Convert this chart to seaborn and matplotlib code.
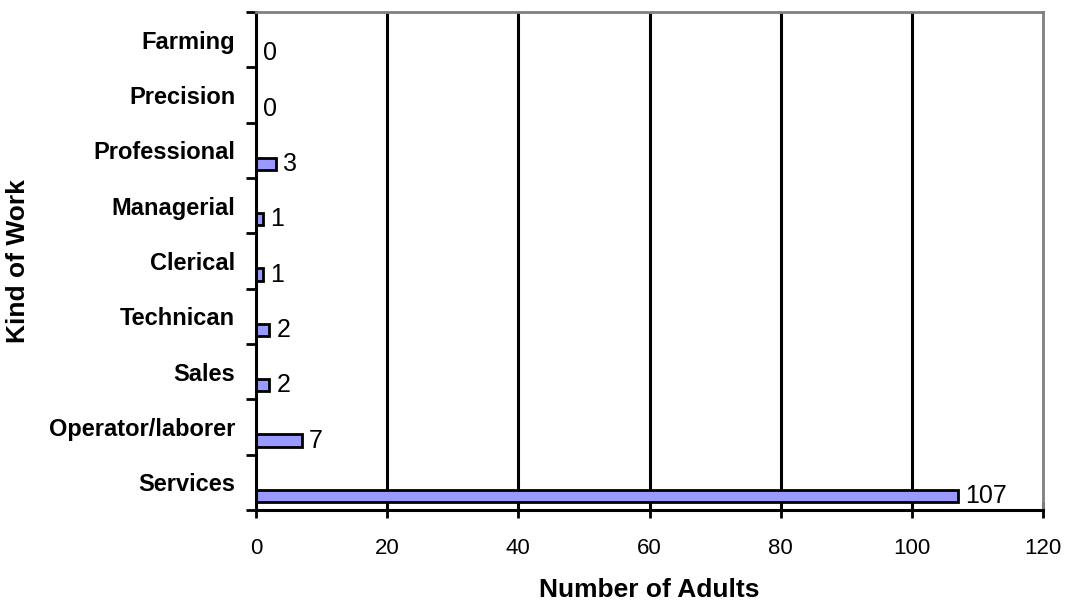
import matplotlib
matplotlib.use("Agg")
import matplotlib.pyplot as plt
import seaborn as sns
import pandas as pd
import numpy as np

categories = ["Farming", "Precision", "Professional", "Managerial", "Clerical",
              "Technican", "Sales", "Operator/laborer", "Services"]
adults = [0, 0, 3, 1, 1, 2, 2, 7, 107]
x_ticks = [0, 20, 40, 60, 80, 100, 120]

df = pd.DataFrame({"Kind of Work": categories, "Number of Adults": adults})

sns.set_theme(style="white")
plt.rcParams["font.family"] = ["Liberation Sans", "DejaVu Sans"]
plt.rcParams["text.color"] = "black"
plt.rcParams["axes.labelcolor"] = "black"
plt.rcParams["xtick.color"] = "black"
plt.rcParams["ytick.color"] = "black"

fig = plt.figure(figsize=(10.66, 6.01), dpi=100)
ax = fig.add_axes([0.2402, 0.1514, 0.7382, 0.8286])

sns.barplot(data=df, x="Number of Adults", y="Kind of Work", orient="h",
            color="#9999FF", saturation=1, width=0.22,
            edgecolor="black", linewidth=2, ax=ax)

# each bar sits in the lower part of its category band
shift = 0.245
n = len(categories)
ax.set_ylim(n - 1 + 0.5 - shift, -0.5 - shift)
ax.set_yticks(np.arange(n) - shift)
ax.set_yticklabels(categories, fontsize=17, fontweight="bold")
ax.set_yticks(np.arange(n + 1) - 0.5 - shift, minor=True)
ax.tick_params(axis="y", which="major", length=0, pad=15)
ax.tick_params(axis="y", which="minor", length=7, width=2, color="black",
               direction="out", left=True)

ax.set_xlim(0, 120)
ax.set_xticks(x_ticks)
ax.set_xticklabels([str(t) for t in x_ticks], fontsize=16)
ax.tick_params(axis="x", length=12, width=2, color="black", direction="inout",
               pad=14, bottom=True)

for t in x_ticks[1:-1]:
    ax.axvline(t, color="black", lw=2.2, zorder=0)

for i, v in enumerate(adults):
    ax.text(v + 1.1, i, str(v), fontsize=18, va="center", ha="left")

for side in ["left", "bottom"]:
    ax.spines[side].set_color("black")
    ax.spines[side].set_linewidth(2.2)
for side in ["top", "right"]:
    ax.spines[side].set_color("#808080")
    ax.spines[side].set_linewidth(2)

ax.set_xlabel("Number of Adults", fontsize=19, fontweight="bold", labelpad=14)
ax.set_ylabel("Kind of Work", fontsize=19, fontweight="bold")
ax.yaxis.set_label_coords(-0.287, 0.5)

fig.savefig("out.png", dpi=100)
